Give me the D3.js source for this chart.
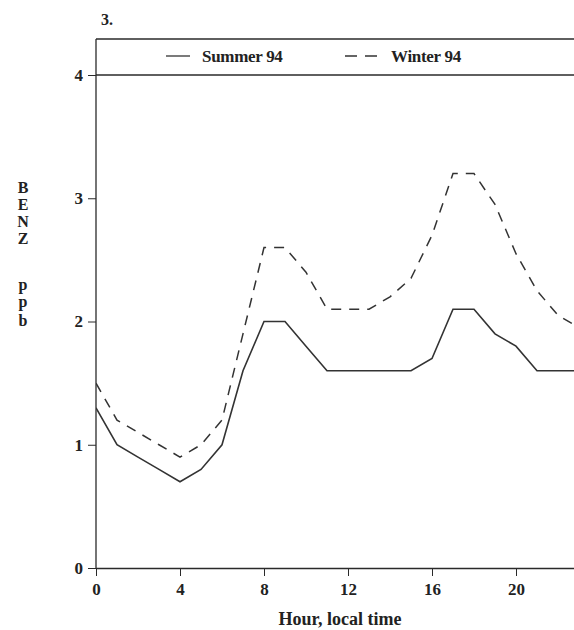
<!DOCTYPE html>
<html><head><meta charset="utf-8">
<script src="https://cdn.jsdelivr.net/npm/d3@7"></script>
<style>body{margin:0;background:#fff}svg{display:block}text{font-family:"Liberation Serif","Times New Roman",serif;font-weight:bold;fill:#222}</style>
</head><body>
<script>
const hours = [0,1,2,3,4,5,6,7,8,9,10,11,12,13,14,15,16,17,18,19,20,21,22,23];
const summer = [1.3,1.0,0.9,0.8,0.7,0.8,1.0,1.6,2.0,2.0,1.8,1.6,1.6,1.6,1.6,1.6,1.7,2.1,2.1,1.9,1.8,1.6,1.6,1.6];
const winter = [1.5,1.2,1.1,1.0,0.9,1.0,1.2,1.9,2.6,2.6,2.4,2.1,2.1,2.1,2.2,2.35,2.7,3.2,3.2,2.95,2.55,2.25,2.05,1.95];
const xTicks = [0,4,8,12,16,20];
const yTicks = [0,1,2,3,4];
const seriesNames = ["Summer 94","Winter 94"];
const yLabel = ["B","E","N","Z","p","p","b"];

const W=574,H=630;
const svg=d3.select("body").append("svg").attr("width",W).attr("height",H);
const x=d3.scaleLinear().domain([0,23]).range([96,579]);
const y=d3.scaleLinear().domain([0,4]).range([568,75]);
const ink="#2a2a2a";

// frame
svg.append("line").attr("x1",96).attr("x2",W).attr("y1",39).attr("y2",39).attr("stroke",ink).attr("stroke-width",1.3);
svg.append("line").attr("x1",96).attr("x2",W).attr("y1",y(4)).attr("y2",y(4)).attr("stroke",ink).attr("stroke-width",1.4);
svg.append("line").attr("x1",96).attr("x2",96).attr("y1",39).attr("y2",y(0)).attr("stroke",ink).attr("stroke-width",1.3);

const xa=svg.append("g").attr("transform",`translate(0,${y(0)})`)
  .call(d3.axisBottom(x).tickValues(xTicks).tickSize(8).tickPadding(7).tickFormat(d3.format("d")));
xa.select(".domain").attr("d",`M96,0.5H${W}`).attr("stroke",ink).attr("stroke-width",1.3);
xa.selectAll(".tick line").attr("stroke",ink);
xa.selectAll("text").style("font-size","17px").attr("fill",ink);

const ya=svg.append("g").attr("transform","translate(96,0)")
  .call(d3.axisLeft(y).tickValues(yTicks).tickSize(8).tickPadding(5).tickFormat(d3.format("d")));
ya.select(".domain").remove();
ya.selectAll(".tick line").attr("stroke",ink);
ya.selectAll("text").style("font-size","17px").attr("fill",ink);

const line=d3.line().x((d,i)=>x(hours[i])).y(d=>y(d));
svg.append("defs").append("clipPath").attr("id","c").append("rect").attr("x",96).attr("y",y(4)).attr("width",W-96).attr("height",y(0)-y(4));
const g=svg.append("g").attr("clip-path","url(#c)");
g.append("path").datum(summer).attr("d",line).attr("fill","none").attr("stroke","#333").attr("stroke-width",1.6);
g.append("path").datum(winter).attr("d",line).attr("fill","none").attr("stroke","#333").attr("stroke-width",1.5).attr("stroke-dasharray","10,8");

// legend
svg.append("line").attr("x1",166).attr("x2",190).attr("y1",56).attr("y2",56).attr("stroke","#333").attr("stroke-width",1.3);
svg.append("text").attr("x",202).attr("y",62).style("font-size","17px").style("letter-spacing","-0.3px").text(seriesNames[0]);
svg.append("line").attr("x1",345).attr("x2",378).attr("y1",56).attr("y2",56).attr("stroke","#333").attr("stroke-width",1.3).attr("stroke-dasharray","12,8");
svg.append("text").attr("x",391).attr("y",62).style("font-size","17px").style("letter-spacing","-0.3px").text(seriesNames[1]);

svg.append("text").attr("x",101).attr("y",25).style("font-size","16px").text("3.");

// y label stacked
const yPos=[193,210,227,244,290,307,326];
const yl=svg.append("text").attr("text-anchor","middle").style("font-size","16px");
yLabel.forEach((c,i)=>{ yl.append("tspan").attr("x",23).attr("y",yPos[i]).text(c); });

svg.append("text").attr("x",340).attr("y",625).attr("text-anchor","middle").style("font-size","18px").text("Hour, local time");
</script>
</body></html>
